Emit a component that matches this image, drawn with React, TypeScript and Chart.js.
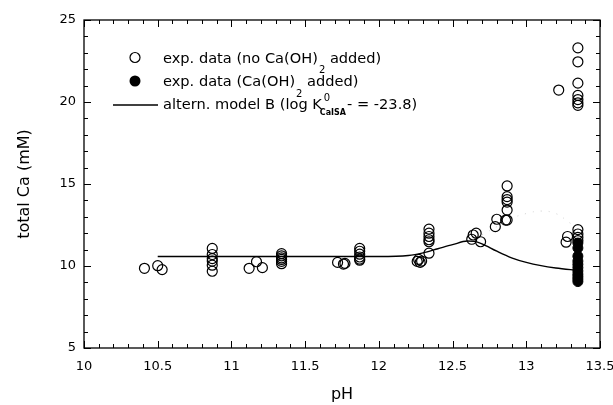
import React, { useEffect, useRef } from "react";
import { Chart, registerables } from "chart.js";

Chart.register(...registerables);

// exp. data (no Ca(OH)2 added) – open circles
const openPH = [
  10.41, 10.5, 10.53,
  10.87, 10.87, 10.87, 10.87, 10.87, 10.87,
  11.12, 11.17, 11.21,
  11.34, 11.34, 11.34, 11.34, 11.34, 11.34,
  11.72, 11.76, 11.77,
  11.87, 11.87, 11.87, 11.87, 11.87, 11.87,
  12.26, 12.27, 12.28, 12.29,
  12.34, 12.34, 12.34, 12.34, 12.34, 12.34,
  12.63, 12.64, 12.66, 12.69,
  12.79, 12.8, 12.86,
  12.87, 12.87, 12.87, 12.87, 12.87, 12.87,
  13.22,
  13.35, 13.35, 13.35, 13.35, 13.35, 13.35, 13.35,
  13.27, 13.28,
  13.35, 13.35, 13.35, 13.35,
];
const openCa = [
  9.86, 10.02, 9.78,
  11.07, 10.7, 10.45, 10.3, 10.05, 9.68,
  9.86, 10.26, 9.9,
  10.75, 10.62, 10.5, 10.4, 10.28, 10.14,
  10.22, 10.12, 10.16,
  11.07, 10.9, 10.72, 10.55, 10.42, 10.35,
  10.28, 10.4, 10.22, 10.3,
  12.25, 12.0, 11.8, 11.6, 11.48, 10.78,
  11.63, 11.89, 12.0, 11.48,
  12.4, 12.85, 12.8,
  14.88, 14.23, 14.05, 13.9, 13.41, 12.8,
  20.73,
  23.3, 22.45, 21.15, 20.4, 20.15, 19.95, 19.8,
  11.45, 11.8,
  12.22, 11.95, 11.75, 11.55,
];

// exp. data (Ca(OH)2 added) – filled circles
const filledPH = [13.35, 13.35, 13.35, 13.35, 13.35, 13.35, 13.35, 13.35, 13.35, 13.35, 13.35];
const filledCa = [11.4, 11.1, 10.6, 10.3, 10.1, 9.9, 9.7, 9.5, 9.35, 9.2, 9.05];

// altern. model B
const modelPH = [10.5, 11, 11.5, 12, 12.2, 12.3, 12.4, 12.5, 12.6, 12.65, 12.7, 12.8, 12.9, 13.0, 13.1, 13.2, 13.35];
const modelCa = [10.58, 10.58, 10.58, 10.58, 10.64, 10.8, 11.05, 11.3, 11.52, 11.5, 11.35, 10.9, 10.5, 10.22, 10.02, 9.88, 9.73];

// faint dotted trace
const faintPH = [12.7, 12.8, 12.9, 13.0, 13.1, 13.2, 13.3];
const faintCa = [11.9, 12.4, 12.9, 13.2, 13.35, 13.2, 12.6];

const xMin = 10, xMax = 13.5, xMajor = 0.5, xMinor = 0.1;
const yMin = 5, yMax = 25, yMajor = 5, yMinor = 1;

const FONT = "'DejaVu Sans', sans-serif";

const toPts = (xs: number[], ys: number[]) => xs.map((x, i) => ({ x, y: ys[i] }));

const framePlugin = {
  id: "frame",
  afterDraw(chart: any) {
    const { ctx, chartArea: a, scales } = chart;
    const xs = scales.x, ys = scales.y;
    ctx.save();
    ctx.strokeStyle = "#000";
    ctx.lineWidth = 1.3;
    ctx.strokeRect(a.left, a.top, a.right - a.left, a.bottom - a.top);
    ctx.lineWidth = 1;
    ctx.beginPath();
    const nx = Math.round((xMax - xMin) / xMinor);
    for (let i = 0; i <= nx; i++) {
      const v = xMin + i * xMinor;
      const major = Math.abs(v / xMajor - Math.round(v / xMajor)) < 1e-6;
      const len = major ? 7 : 4;
      const px = Math.round(xs.getPixelForValue(v)) + 0.5;
      ctx.moveTo(px, a.bottom); ctx.lineTo(px, a.bottom - len);
      ctx.moveTo(px, a.top); ctx.lineTo(px, a.top + len);
    }
    const ny = Math.round((yMax - yMin) / yMinor);
    for (let i = 0; i <= ny; i++) {
      const v = yMin + i * yMinor;
      const major = Math.abs(v / yMajor - Math.round(v / yMajor)) < 1e-6;
      const len = major ? 7 : 4;
      const py = Math.round(ys.getPixelForValue(v)) + 0.5;
      ctx.moveTo(a.left, py); ctx.lineTo(a.left + len, py);
      ctx.moveTo(a.right, py); ctx.lineTo(a.right - len, py);
    }
    ctx.stroke();
    ctx.restore();
  },
};

const legendPlugin = {
  id: "customLegend",
  afterDraw(chart: any) {
    const { ctx } = chart;
    ctx.save();
    ctx.fillStyle = "#000";
    ctx.strokeStyle = "#000";
    const big = `14.6px ${FONT}`;
    const sub = `10px ${FONT}`;
    const tiny = `bold 8px ${FONT}`;
    const mx = 135;
    const tx = 163;
    ctx.textBaseline = "alphabetic";
    ctx.textAlign = "left";
    // row 1
    ctx.lineWidth = 1.2;
    ctx.beginPath(); ctx.arc(mx, 57.5, 5, 0, Math.PI * 2); ctx.stroke();
    let x = tx;
    ctx.font = big; let s = "exp. data (no Ca(OH)"; ctx.fillText(s, x, 62.5); x += ctx.measureText(s).width + 1;
    ctx.font = sub; ctx.fillText("2", x, 73); x += ctx.measureText("2").width;
    ctx.font = big; ctx.fillText(" added)", x, 62.5);
    // row 2
    ctx.beginPath(); ctx.arc(mx, 81, 5.5, 0, Math.PI * 2); ctx.fill();
    x = tx;
    ctx.font = big; s = "exp. data (Ca(OH)"; ctx.fillText(s, x, 86); x += ctx.measureText(s).width + 1;
    ctx.font = sub; ctx.fillText("2", x, 96.5); x += ctx.measureText("2").width;
    ctx.font = big; ctx.fillText(" added)", x, 86);
    // row 3
    ctx.lineWidth = 1.4;
    ctx.beginPath(); ctx.moveTo(113, 105); ctx.lineTo(158, 105); ctx.stroke();
    x = tx;
    ctx.font = big; s = "altern. model B (log K"; ctx.fillText(s, x, 109); x += ctx.measureText(s).width + 1;
    ctx.font = sub; ctx.fillText("0", x + 1, 100.5);
    ctx.font = tiny; ctx.fillText("CaISA", x - 3, 115); x += ctx.measureText("CaISA").width - 2;
    ctx.font = big; ctx.fillText("- = -23.8)", x, 109);
    ctx.restore();
  },
};

export default function App() {
  const ref = useRef<HTMLCanvasElement | null>(null);
  useEffect(() => {
    if (!ref.current) return;
    const chart = new Chart(ref.current, {
      type: "scatter",
      data: {
        datasets: [
          {
            label: "faint",
            type: "line",
            data: toPts(faintPH, faintCa),
            borderColor: "rgba(170,170,170,0.5)",
            borderWidth: 1,
            borderDash: [1, 7],
            pointRadius: 0,
            tension: 0.4,
            fill: false,
          },
          {
            label: "altern. model B",
            type: "line",
            data: toPts(modelPH, modelCa),
            borderColor: "#000",
            borderWidth: 1.4,
            pointRadius: 0,
            cubicInterpolationMode: "monotone",
            fill: false,
          },
          {
            label: "exp. data (Ca(OH)2 added)",
            data: toPts(filledPH, filledCa),
            pointStyle: "circle",
            pointRadius: 5,
            backgroundColor: "#000",
            borderColor: "#000",
            borderWidth: 1,
          },
          {
            label: "exp. data (no Ca(OH)2 added)",
            data: toPts(openPH, openCa),
            pointStyle: "circle",
            pointRadius: 5,
            backgroundColor: "rgba(0,0,0,0)",
            borderColor: "#000",
            borderWidth: 1.2,
          },
        ],
      },
      options: {
        responsive: false,
        animation: false,
        layout: { padding: { left: 0, top: 20, right: 13, bottom: 0 } },
        plugins: { legend: { display: false }, tooltip: { enabled: false } },
        scales: {
          x: {
            type: "linear",
            min: xMin,
            max: xMax,
            grid: { display: false, drawTicks: false },
            border: { display: false },
            ticks: {
              stepSize: xMajor,
              padding: 11,
              color: "#000",
              font: { family: FONT, size: 13 },
              maxRotation: 0,
              callback: (v: any) => String(Number(v)),
            },
            title: {
              display: true,
              text: "pH",
              color: "#000",
              font: { family: FONT, size: 16 },
              padding: { top: 0, bottom: 1 },
            },
            afterFit(scale: any) {
              scale.height = 57;
              scale.paddingLeft = 0;
              scale.paddingRight = 0;
            },
          },
          y: {
            type: "linear",
            min: yMin,
            max: yMax,
            grid: { display: false, drawTicks: false },
            border: { display: false },
            ticks: {
              stepSize: yMajor,
              padding: 8,
              color: "#000",
              font: { family: FONT, size: 13 },
              callback: (v: any) => String(Number(v)),
            },
            title: {
              display: true,
              text: "total Ca (mM)",
              color: "#000",
              font: { family: FONT, size: 16 },
              padding: { top: 15, bottom: 0 },
            },
            afterFit(scale: any) {
              scale.width = 84;
              scale.paddingTop = 0;
              scale.paddingBottom = 0;
            },
          },
        },
      },
      plugins: [framePlugin, legendPlugin],
    } as any);
    return () => chart.destroy();
  }, []);
  return (
    <div style={{ position: "fixed", left: 0, top: 0, width: 613, height: 405, background: "#fff" }}>
      <canvas ref={ref} width={613} height={405} style={{ width: 613, height: 405 }} />
    </div>
  );
}
